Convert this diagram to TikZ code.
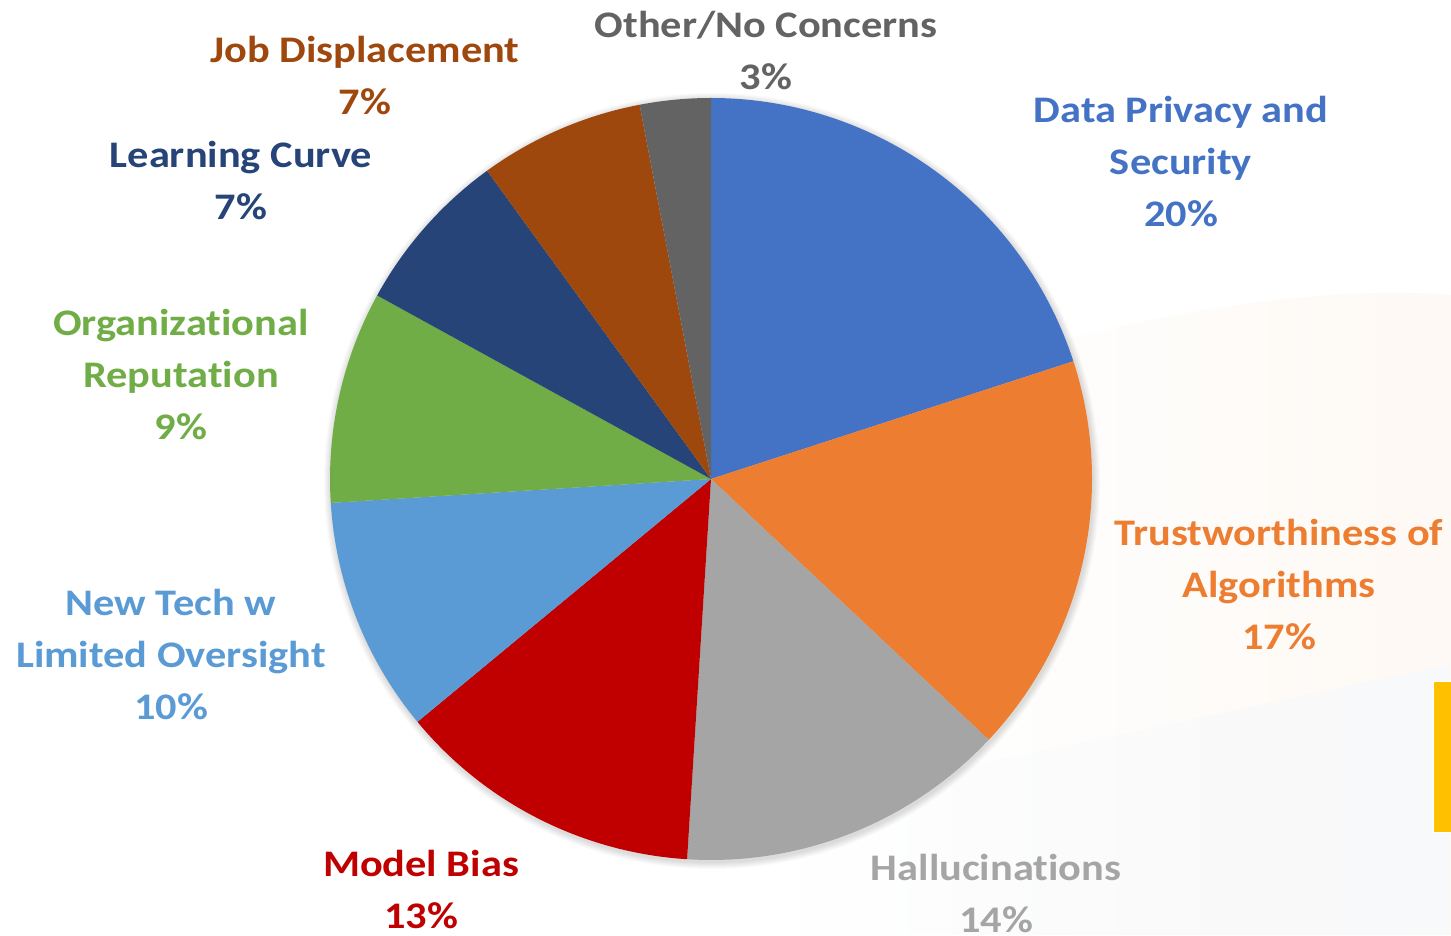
\documentclass[tikz,border=0pt]{standalone}
\usepackage{fontspec}
\setmainfont{Carlito}[FakeStretch=1.13,Ligatures=NoCommon]
\usetikzlibrary{fadings}
\definecolor{cData}{HTML}{4472C4}
\definecolor{cTrust}{HTML}{ED7D31}
\definecolor{cHall}{HTML}{A5A5A5}
\definecolor{cBias}{HTML}{C00000}
\definecolor{cTech}{HTML}{5B9BD5}
\definecolor{cOrg}{HTML}{70AD47}
\definecolor{cLearn}{HTML}{264478}
\definecolor{cJob}{HTML}{9E480E}
\definecolor{cOther}{HTML}{636363}
\definecolor{cBar}{HTML}{FFC000}
\definecolor{cPeach}{HTML}{FEF9F4}
\definecolor{cMist}{HTML}{F8F9FC}
\begin{document}
\begin{tikzpicture}[x=1pt,y=1pt,
  lab/.style={align=center,anchor=base,inner sep=0pt,font=\fontsize{37.5}{52}\selectfont\bfseries}]
\useasboundingbox (0,0) rectangle (1451,935);
\fill[white] (0,0) rectangle (1451,935);
% faint background
\fill[cPeach,path fading=west] (950,0) -- (950,560) .. controls (1150,630) and (1350,650) .. (1451,640) -- (1451,0) -- cycle;
\fill[cMist,path fading=west] (800,0) -- (800,140) .. controls (1050,180) and (1250,230) .. (1451,270) -- (1451,0) -- cycle;
\coordinate (c) at (711,456);
% shadow
\foreach \k in {1,...,7} {\fill[black,opacity=0.02] ([xshift=1pt,yshift=-2pt]c) circle ({381+\k});}
% slices
\fill[cData]  (c) -- ++(90:381)   arc[start angle=90,   end angle=18,    radius=381] -- cycle;
\fill[cTrust] (c) -- ++(18:381)   arc[start angle=18,   end angle=-43.2, radius=381] -- cycle;
\fill[cHall]  (c) -- ++(-43.2:381) arc[start angle=-43.2, end angle=-93.6, radius=381] -- cycle;
\fill[cBias]  (c) -- ++(-93.6:381) arc[start angle=-93.6, end angle=-140.4, radius=381] -- cycle;
\fill[cTech]  (c) -- ++(-140.4:381) arc[start angle=-140.4, end angle=-176.4, radius=381] -- cycle;
\fill[cOrg]   (c) -- ++(-176.4:381) arc[start angle=-176.4, end angle=-208.8, radius=381] -- cycle;
\fill[cLearn] (c) -- ++(-208.8:381) arc[start angle=-208.8, end angle=-234, radius=381] -- cycle;
\fill[cJob]   (c) -- ++(-234:381) arc[start angle=-234, end angle=-259.2, radius=381] -- cycle;
\fill[cOther] (c) -- ++(-259.2:381) arc[start angle=-259.2, end angle=-270, radius=381] -- cycle;
% labels (anchor = baseline of last line)
\node[lab,text=cOther] (lother) at (766,845) {Other/No Concerns\\3\%};
\node[lab,text=cJob] (ljob) at (365,820) {Job Displacement\\7\%};
\node[lab,text=cLearn] (llearn) at (241,715) {Learning Curve\\7\%};
\node[lab,text=cOrg] (lorg) at (181,495) {Organizational\\Reputation\\9\%};
\node[lab,text=cTech] (ltech) at (171,215) {New Tech w\\Limited Oversight\\10\%};
\node[lab,text=cBias] (lbias) at (421,7) {Model Bias\\13\%};
\node[lab,text=cHall] (lhall) at (996,3) {Hallucinations\\14\%};
\node[lab,text=cTrust] (ltrust) at (1279,285) {Trustworthiness of\\Algorithms\\17\%};
\node[lab,text=cData] (ldata) at (1181,708) {Data Privacy and\\Security\\20\%};
% yellow bar
\fill[cBar,draw=white,line width=1pt] (1433,103) rectangle (1453,253);
\end{tikzpicture}
\end{document}
